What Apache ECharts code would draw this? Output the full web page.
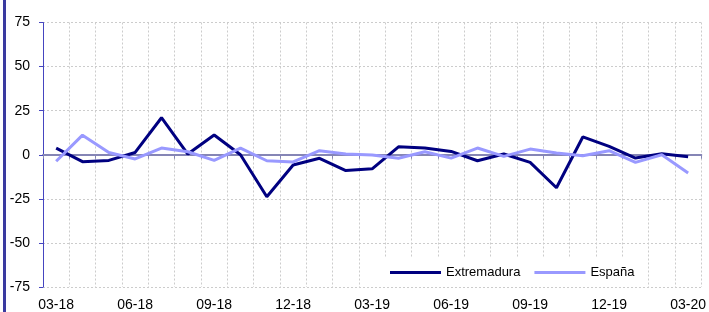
<!DOCTYPE html>
<html>
<head>
<meta charset="utf-8">
<script src="https://cdn.jsdelivr.net/npm/echarts@6/dist/echarts.min.js"></script>
<style>
  html, body { margin: 0; padding: 0; background: #fff; }
  #chart { width: 709px; height: 312px; }
</style>
</head>
<body>
<div id="chart"></div>
<script>
// meses de 03-18 a 03-20
const months = [
  '03-18', '04-18', '05-18', '06-18', '07-18', '08-18', '09-18', '10-18', '11-18',
  '12-18', '01-19', '02-19', '03-19', '04-19', '05-19', '06-19', '07-19', '08-19',
  '09-19', '10-19', '11-19', '12-19', '01-20', '02-20', '03-20'
]
const extremadura = [
  3.8, -3.9, -3.2, 1.3, 21.0, 0.4, 11.2, 0.0, -23.8,
  -5.8, -2.0, -9.0, -8.0, 4.5, 3.8, 1.9, -3.4, 0.4,
  -4.3, -18.7, 10.1, 4.7, -1.9, 0.6, -1.1
]
const espana = [
  -3.7, 11.1, 1.3, -2.4, 3.8, 1.7, -3.2, 3.8, -3.4,
  -4.1, 2.3, 0.4, -0.2, -2.0, 1.7, -1.9, 3.8, -0.9,
  3.2, 1.0, -0.6, 2.3, -4.3, 0.0, -10.3
]
const yTicks = { min: -75, max: 75, step: 25 }

const chart = echarts.init(document.getElementById('chart'))

const font = 'Liberation Sans, Arial, sans-serif'
const gridLine = { show: true, lineStyle: { color: '#cccccc', type: [2, 2], width: 1 } }

chart.setOption({
  animation: false,
  textStyle: { fontFamily: font },
  graphic: [
    {
      type: 'rect',
      shape: { x: 3, y: 0, width: 3, height: 312 },
      style: { fill: '#3a3aa0' },
      silent: true
    }
  ],
  grid: { left: 43, right: 6, top: 22.5, bottom: 23 },
  legend: {
    left: 385,
    top: 258,
    padding: [8, 8, 8, 5],
    backgroundColor: '#fff',
    itemGap: 14,
    itemWidth: 51,
    itemHeight: 3,
    textStyle: { fontSize: 13, color: '#000', fontFamily: font },
    data: [
      { name: 'Extremadura', icon: 'rect' },
      { name: 'España', icon: 'rect' }
    ]
  },
  xAxis: [
    {
      type: 'category',
      data: months,
      boundaryGap: true,
      position: 'bottom',
      axisLine: { show: false, onZero: false },
      axisTick: { show: false },
      axisLabel: { interval: 2, fontSize: 14, color: '#000', margin: 11, fontFamily: font },
      splitLine: { ...gridLine, interval: 0 }
    },
    {
      type: 'category',
      data: months,
      boundaryGap: true,
      position: 'bottom',
      axisLine: { show: true, onZero: true, lineStyle: { color: '#8585b5', width: 2 } },
      axisTick: { show: true, interval: 0, length: 4, lineStyle: { color: '#8585b5' } },
      axisLabel: { show: false },
      splitLine: { show: false }
    }
  ],
  yAxis: {
    type: 'value',
    min: yTicks.min,
    max: yTicks.max,
    interval: yTicks.step,
    axisLine: { show: true, lineStyle: { color: '#4545c0', width: 1 } },
    axisTick: { show: true, length: 4, lineStyle: { color: '#4545c0' } },
    axisLabel: { fontSize: 14, color: '#000', margin: 13, fontFamily: font },
    splitLine: gridLine
  },
  series: [
    {
      name: 'Extremadura',
      type: 'line',
      data: extremadura,
      symbol: 'none',
      lineStyle: { color: '#000080', width: 3 },
      itemStyle: { color: '#000080' }
    },
    {
      name: 'España',
      type: 'line',
      data: espana,
      symbol: 'none',
      lineStyle: { color: '#9999ff', width: 3 },
      itemStyle: { color: '#9999ff' }
    }
  ]
})
</script>
</body>
</html>
